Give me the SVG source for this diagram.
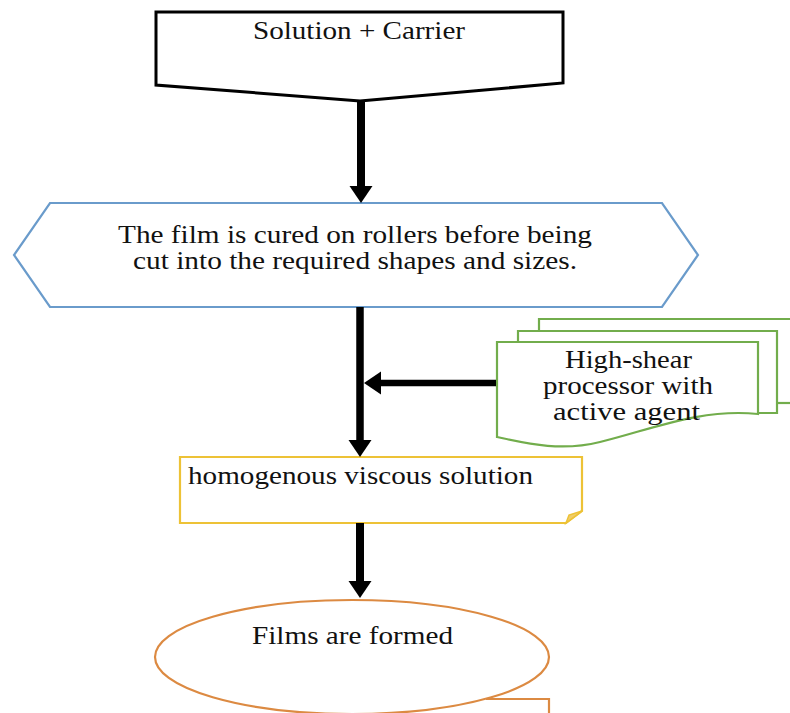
<svg xmlns="http://www.w3.org/2000/svg" width="790" height="713" viewBox="0 0 790 713">
<defs>
<style>
.t{font-family:"Liberation Serif","Times New Roman",serif;font-size:25px;fill:#111;}
.blue{fill:#fff;stroke:#6A9BCB;stroke-width:2.2;}
.green{fill:#fff;stroke:#72AD4C;stroke-width:2.2;}
.yellow{fill:#fff;stroke:#EDC236;stroke-width:2.2;}
.orange{fill:#fff;stroke:#DC8A42;stroke-width:2.2;}
.conn{stroke:#000;fill:none;}
</style>
<marker id="ah" markerUnits="userSpaceOnUse" markerWidth="18" markerHeight="24" refX="0" refY="11.5" orient="auto">
<path d="M0,0 L17,11.5 L0,23 Z" fill="#000"/>
</marker>
</defs>
<rect width="790" height="713" fill="#fff"/>

<g id="node-solution">
<polygon points="156,12 563,12 563,83 360,101 156,85" fill="#fff" stroke="#000" stroke-width="3"/>
<text class="t" x="253" y="39" textLength="212" lengthAdjust="spacingAndGlyphs">Solution + Carrier</text>
</g>

<g id="node-cure">
<polygon class="blue" points="50,203 662,203 698,255 662,307 50,307 14,255"/>
<text class="t" x="118" y="243" textLength="474" lengthAdjust="spacingAndGlyphs">The film is cured on rollers before being</text>
<text class="t" x="133" y="269" textLength="444" lengthAdjust="spacingAndGlyphs">cut into the required shapes and sizes.</text>
</g>

<g id="node-processor">
<path class="green" d="M539,319 H805 V403 H539 Z"/>
<path class="green" d="M518,331 H777 V413 H518 Z"/>
<path class="green" d="M497,342 H758 V414 C700,408 650,430 600,442 C560,452 525,443 497,437 Z"/>
<line x1="777" y1="403" x2="790" y2="403" stroke="#72AD4C" stroke-width="2.2"/>
<text class="t" x="565" y="368" textLength="127" lengthAdjust="spacingAndGlyphs">High-shear</text>
<text class="t" x="543" y="394" textLength="170" lengthAdjust="spacingAndGlyphs">processor with</text>
<text class="t" x="553" y="420" textLength="147" lengthAdjust="spacingAndGlyphs">active agent</text>
</g>

<g id="node-solution-viscous">
<polygon class="yellow" points="180,457 582,457 582,511 566,523 180,523"/>
<polygon points="582,511 566,523 569,515" fill="#F0CD6A" stroke="#EDC236" stroke-width="1.5"/>
<text class="t" x="188" y="484" textLength="345" lengthAdjust="spacingAndGlyphs">homogenous viscous solution</text>
</g>

<g id="node-films">
<ellipse class="orange" cx="352" cy="657" rx="197" ry="57"/>
<polyline points="486,699 549,699 549,716" fill="none" stroke="#DC8A42" stroke-width="2.2"/>
<text class="t" x="252" y="644" textLength="201" lengthAdjust="spacingAndGlyphs">Films are formed</text>
</g>

<g id="connectors">
<line class="conn" x1="361" y1="101" x2="361" y2="186" stroke-width="8" marker-end="url(#ah)"/>
<line class="conn" x1="360" y1="307" x2="360" y2="440" stroke-width="7.5" marker-end="url(#ah)"/>
<line class="conn" x1="496" y1="383" x2="381" y2="383" stroke-width="6.5" marker-end="url(#ah)"/>
<line class="conn" x1="360" y1="523" x2="360" y2="581" stroke-width="8" marker-end="url(#ah)"/>
</g>
</svg>
